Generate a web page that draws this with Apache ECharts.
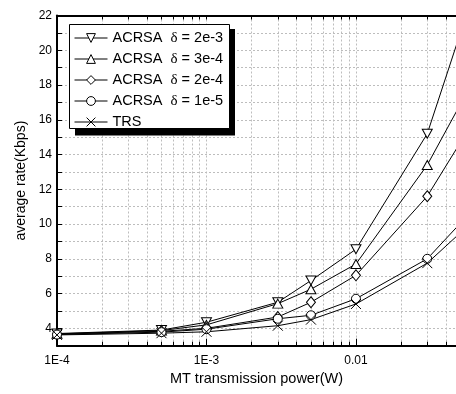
<!DOCTYPE html>
<html>
<head>
<meta charset="utf-8">
<script src="https://cdn.jsdelivr.net/npm/echarts@6/dist/echarts.min.js"></script>
<style>html,body{margin:0;padding:0;background:#fff;}#c{width:456px;height:394px;}</style>
</head>
<body>
<div id="c"></div>
<script>
// ---- data ----
const xPower = [1e-4, 5e-4, 1e-3, 3e-3, 5e-3, 1e-2, 3e-2, 5e-2];
const seriesNames = ['ACRSA  δ = 2e-3', 'ACRSA  δ = 3e-4', 'ACRSA  δ = 2e-4', 'ACRSA  δ = 1e-5', 'TRS'];
const rateD2e3 = [3.70, 3.90, 4.35, 5.50, 6.75, 8.55, 15.20, 21.00];
const rateD3e4 = [3.68, 3.87, 4.20, 5.42, 6.25, 7.70, 13.40, 16.90];
const rateD2e4 = [3.66, 3.83, 4.00, 4.65, 5.50, 7.05, 11.60, 14.70];
const rateD1e5 = [3.64, 3.78, 3.95, 4.55, 4.75, 5.70, 8.00, 10.05];
const rateTRS  = [3.62, 3.72, 3.80, 4.15, 4.50, 5.40, 7.75, 9.50];
const xTickValues = [1e-4, 1e-3, 1e-2];
const xTickLabels = ['1E-4', '1E-3', '0.01'];
const yTickLabels = [4, 6, 8, 10, 12, 14, 16, 18, 20, 22];

const allRates = [rateD2e3, rateD3e4, rateD2e4, rateD1e5, rateTRS];
const symbols = ['triangle', 'triangle', 'diamond', 'circle', 'path://M0,0L10,10M10,0L0,10'];
const symbolRot = [180, 0, 0, 0, 0];
const symbolSizes = [[10, 9], [10, 9], [9, 11], 9, 10];

const xMin = 1e-4, xMax = 0.0467;
const lMin = Math.log10(xMin), lMax = Math.log10(xMax);
// minor tick positions in log10 space (decoration)
const minorLog = [];
for (let d = -4; d <= -2; d++) {
  for (let k = 1; k <= 9; k++) {
    const v = d + Math.log10(k);
    if (v <= lMax + 1e-9) minorLog.push(v);
  }
}
const majorLog = xTickValues.map(v => Math.log10(v));

const FONT = 'Liberation Sans';
const chart = echarts.init(document.getElementById('c'));

const series = allRates.map((arr, i) => ({
  name: seriesNames[i],
  type: 'line',
  xAxisIndex: 0,
  yAxisIndex: 0,
  data: arr.map((y, j) => [xPower[j], y]),
  symbol: symbols[i],
  symbolRotate: symbolRot[i],
  symbolSize: symbolSizes[i],
  showAllSymbol: true,
  clip: true,
  lineStyle: { color: '#000', width: 1 },
  itemStyle: { color: '#fff', borderColor: '#000', borderWidth: 1 },
  z: 2
}));

chart.setOption({
  animation: false,
  backgroundColor: '#fff',
  grid: { left: 57, right: 0, top: 15.5, bottom: 48.3, containLabel: false },
  xAxis: [
    { // data axis (log)
      type: 'log', logBase: 10, min: xMin, max: xMax,
      axisLine: { show: false },
      axisTick: { show: true, inside: true, length: 7, lineStyle: { color: '#000', width: 1 } },
      axisLabel: { show: false },
      splitLine: { show: false },
      name: 'MT transmission power(W)', nameLocation: 'middle', nameGap: 26,
      nameTextStyle: { fontFamily: FONT, fontSize: 14.5, color: '#000' }
    },
    { // bottom decoration axis in log10 space
      type: 'value', position: 'bottom', min: lMin, max: lMax,
      axisLine: { show: true, onZero: false, lineStyle: { color: '#000', width: 2 } },
      axisTick: { show: true, inside: true, length: 4, customValues: minorLog, lineStyle: { color: '#000', width: 1 } },
      axisLabel: {
        show: true, margin: 9, customValues: majorLog,
        fontFamily: FONT, fontSize: 12, color: '#000',
        formatter: v => {
          const i = majorLog.findIndex(m => Math.abs(m - v) < 1e-6);
          return i >= 0 ? xTickLabels[i] : '';
        }
      },
      splitLine: { show: true, lineStyle: { color: '#bdbdbd', width: 1, type: [2, 2] } }
    },
    { // top axis
      type: 'value', position: 'top', min: lMin, max: lMax,
      axisLine: { show: true, onZero: false, lineStyle: { color: '#000', width: 2 } },
      axisTick: { show: true, inside: true, length: 4, customValues: minorLog, lineStyle: { color: '#000', width: 1 } },
      axisLabel: { show: false },
      splitLine: { show: false }
    }
  ],
  yAxis: [{
    type: 'value', min: 3, max: 22, interval: 1,
    axisLine: { show: true, onZero: false, lineStyle: { color: '#000', width: 2 } },
    axisTick: { show: true, inside: true, length: 5, lineStyle: { color: '#000', width: 1 } },
    axisLabel: {
      margin: 5, fontFamily: FONT, fontSize: 12, color: '#000',
      formatter: v => (yTickLabels.indexOf(v) >= 0 ? String(v) : '')
    },
    splitLine: { show: true, lineStyle: { color: '#bdbdbd', width: 1, type: [2, 2] } },
    name: 'average rate(Kbps)', nameLocation: 'middle', nameGap: 26,
    nameTextStyle: { fontFamily: FONT, fontSize: 14, color: '#000' }
  }],
  legend: {
    orient: 'vertical', left: 74, top: 30,
    itemWidth: 33, itemHeight: 11, itemGap: 5, padding: 0,
    data: seriesNames,
    lineStyle: { width: 1, color: '#000' },
    itemStyle: { color: '#fff', borderColor: '#000', borderWidth: 1 },
    formatter: name => name.replace('δ', '{d|δ}'),
    textStyle: {
      fontFamily: FONT, fontSize: 14.5, color: '#000', lineHeight: 16,
      rich: { d: { fontFamily: 'Liberation Serif', fontSize: 15, color: '#000', lineHeight: 16 } }
    },
    z: 6
  },
  graphic: [
    { type: 'rect', z: 5, shape: { x: 75, y: 29, width: 160, height: 106.5 }, style: { fill: '#000' } },
    { type: 'rect', z: 5, shape: { x: 69.5, y: 24.5, width: 160, height: 104 }, style: { fill: '#fff', stroke: '#000', lineWidth: 1 } }
  ],
  series: series
});
</script>
</body>
</html>
